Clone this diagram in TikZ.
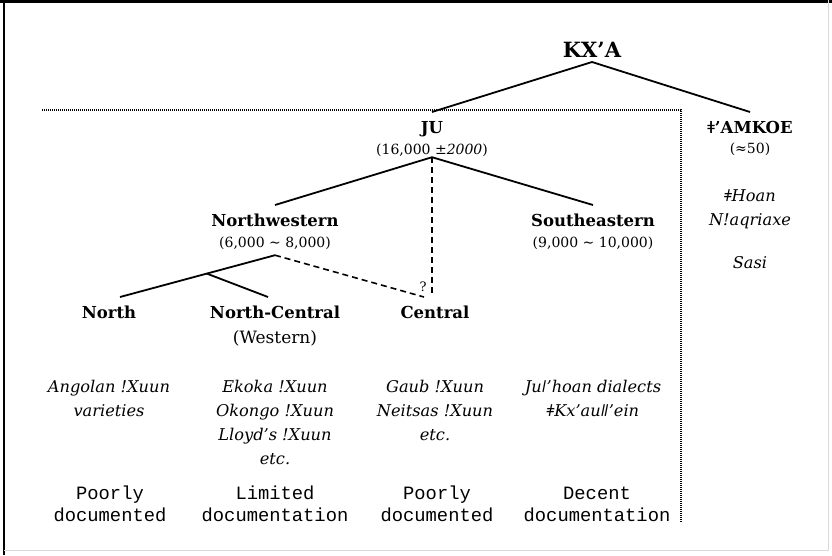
\documentclass[tikz,border=0pt]{standalone}
\usepackage{fontspec}
\setmainfont{DejaVu Serif}
\setmonofont{Liberation Mono}
\usepackage{tikz}
\usetikzlibrary{positioning,calc}

\tikzset{
    root/.style={font=\fontsize{21}{24}\selectfont\bfseries, inner sep=0pt, text depth=0pt, outer ysep=5pt, anchor=base},
    group/.style={font=\fontsize{16.5}{19}\selectfont\bfseries, inner sep=0pt, text height=12pt, outer ysep=9pt, anchor=base},
    pop/.style={font=\fontsize{14}{17}\selectfont, inner sep=0pt, text height=11pt, text depth=3pt},
    sub/.style={font=\fontsize{17}{20}\selectfont, inner sep=0pt},
    lang/.style={font=\fontsize{16.2}{24}\selectfont\itshape, inner sep=0pt, align=center, anchor=base},
    docs/.style={font=\fontsize{18.8}{22}\selectfont\ttfamily, inner sep=0pt, align=center, anchor=base},
    branch/.style={line width=1.8pt},
    maybe/.style={line width=1.6pt, dash pattern=on 6pt off 4pt},
    border line/.style={line width=1.7pt, dash pattern=on 1pt off 1pt}
}

\begin{document}
\begin{tikzpicture}[x=1pt, y=-1pt]
    \useasboundingbox (0,0) rectangle (832,555);
    \draw[line width=3pt] (0,1.5) -- (832,1.5);
    \draw[line width=2.5pt] (4,0) -- (4,555);
    \draw[black!15, line width=1pt] (4,550) -- (828,550) -- (828,0);

        \node[root]     (kxa)       at (592,57)     {KX’A};
        \node[group]    (ju)        at (432,133)    {JU};
        \node[pop]      (ju-pop)    [below=21pt of ju.base, anchor=base]    {(16,000 \textit{±2000})};
        \node[group]    (amk)       at (750,133)    {ǂ’AMKOE};
        \node[pop]      (amk-pop)   [below=20pt of amk.base, anchor=base]   {(≈50)};
        \node[lang]     (amk-lang)  [below=115pt of amk-pop.base, anchor=base] {ǂHoan\\N!aqriaxe\\[19pt]Sasi};

        \node[group]    (nw)        at (275,226)    {Northwestern};
        \node[pop]      (nw-pop)    [below=21pt of nw.base, anchor=base]    {(6,000 \textasciitilde{} 8,000)};
        \node[group]    (se)        at (593,226)    {Southeastern};
        \node[pop]      (se-pop)    [below=21pt of se.base, anchor=base]    {(9,000 \textasciitilde{} 10,000)};

        \node[group]    (north)     at (109,318)    {North};
        \node[group]    (nc)        at (275,318)    {North-Central};
        \node[sub]      (nc-sub)    [below=25pt of nc.base, anchor=base]    {(Western)};
        \node[group]    (central)   at (435,318)    {Central};

        \node[lang]     (north-lang)    [below=98pt of north.base, anchor=base]     {Angolan !Xuun\\varieties};
        \node[lang]     (nc-lang)       [below=146pt of nc.base, anchor=base]       {Ekoka !Xuun\\Okongo !Xuun\\Lloyd’s !Xuun\\etc.};
        \node[lang]     (central-lang)  [below=122pt of central.base, anchor=base]  {Gaub !Xuun\\Neitsas !Xuun\\etc.};
        \node[lang]     (se-lang)       at (593,416)    {Juǀ’hoan dialects\\ǂKx’auǁ’ein};

        \node[docs]     (north-docs)    at (110,521)    {Poorly\\documented};
        \node[docs]     (nc-docs)       at (275,521)    {Limited\\documentation};
        \node[docs]     (central-docs)  at (437,521)    {Poorly\\documented};
        \node[docs]     (se-docs)       at (597,521)    {Decent\\documentation};

    \coordinate (nw-fork) at ([yshift=-5pt]nw-pop.south);
    \coordinate (north-end) at ([xshift=11pt]north.north);
    \coordinate (c-top) at ([xshift=-11pt]central.north);
    \coordinate (dots-start) at (42,110);
    \coordinate (dots-corner) at (681,110);
    \coordinate (dots-end) at (681,523);

    \draw[branch] (kxa.south) -- (ju.north);
    \draw[branch] (kxa.south) -- (amk.north);
    \draw[branch] (ju-pop.south) -- (nw.north);
    \draw[branch] (ju-pop.south) -- (se.north);
    \draw[branch] (nw-fork) -- (north-end);
    \draw[branch] ($(nw-fork)!0.44!(north-end)$) -- ([xshift=-7pt]nc.north);
    \draw[maybe] (nw-fork) -- (c-top);
    \draw[maybe] (ju-pop.south) -- (ju-pop.south |- c-top);
    \node[font=\fontsize{13}{15}\selectfont, inner sep=0pt] (query) at (423,287) {?};
    \draw[border line] (dots-start) -- (dots-corner) -- (dots-end);
\end{tikzpicture}
\end{document}
